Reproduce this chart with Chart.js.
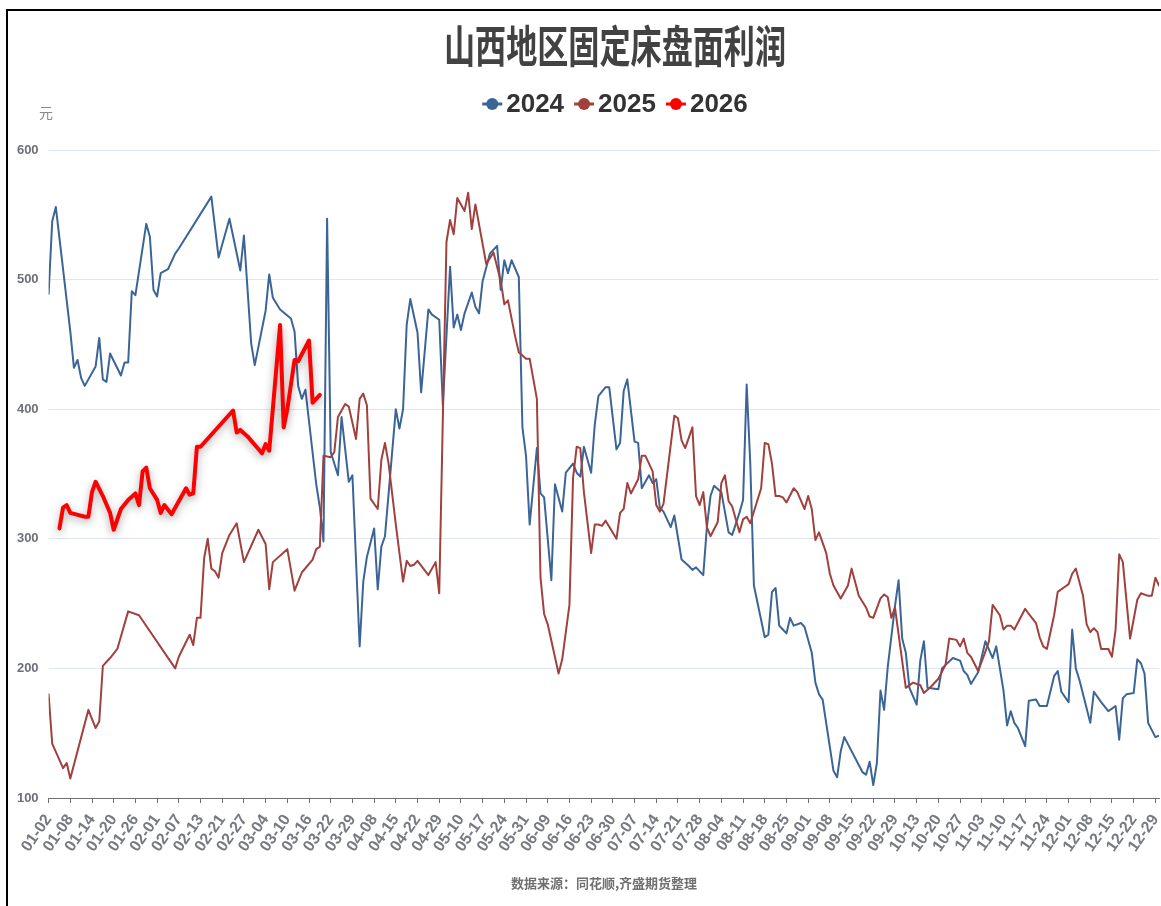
<!DOCTYPE html>
<html>
<head>
<meta charset="utf-8">
<title>山西地区固定床盘面利润</title>
<script src="https://cdn.jsdelivr.net/npm/chart.js@4/dist/chart.umd.min.js"></script>
<style>
  html, body { margin: 0; padding: 0; background: #fff; overflow: hidden; }
  #wrap { position: relative; width: 1161px; height: 906px; }
  #frame { position: absolute; left: 6px; top: 9px; width: 1200px; height: 1000px;
           border-left: 2px solid #000; border-top: 2px solid #000; pointer-events: none; }
  canvas { position: absolute; left: 0; top: 0; }
</style>
</head>
<body>
<div id="wrap">
  <canvas id="profit" width="1161" height="906"></canvas>
  <div id="frame"></div>
</div>
<script>
// labels shown on the x axis, one every 6 trading days
const tickLabels = ['01-02','01-08','01-14','01-20','01-26','02-01','02-07','02-13','02-21','02-27',
  '03-04','03-10','03-16','03-22','03-29','04-08','04-15','04-22','04-29','05-10',
  '05-17','05-24','05-31','06-09','06-16','06-23','06-30','07-07','07-14','07-21',
  '07-28','08-04','08-11','08-18','08-25','09-01','09-08','09-15','09-22','09-29',
  '10-13','10-20','10-27','11-03','11-10','11-17','11-24','12-01','12-08','12-15',
  '12-22','12-29'];
const tickStep = 6;
const lastDay = 307;

const seriesNames = ['2024', '2025', '2026'];

// [trading day index, profit in yuan]
const s2024 = [[0,489],[1,545],[2,556],[6,460],[7,432],[8,438],[9,424],[10,418],[13,433],[14,455],
  [15,423],[16,421],[17,443],[20,426],[21,436],[22,436],[23,491],[24,488],[27,543],[28,533],
  [29,492],[30,487],[31,505],[33,508],[35,520],[36,524],[45,564],[47,517],[50,547],[53,507],
  [54,534],[56,451],[57,434],[60,476],[61,504],[62,486],[64,477],[67,470],[68,460],[69,418],
  [70,408],[71,415],[74,342],[75,324],[76,298],[77,547],[78,367],[80,349],[81,394],[83,344],
  [84,349],[86,217],[87,267],[88,286],[90,308],[91,261],[92,294],[93,302],[96,400],[97,385],
  [98,400],[99,465],[100,485],[102,459],[103,413],[105,477],[106,473],[108,469],[109,403],[111,510],
  [112,463],[113,473],[114,461],[115,474],[117,490],[118,479],[119,474],[120,499],[122,520],[124,526],
  [125,492],[126,515],[127,505],[128,515],[130,502],[131,386],[132,364],[133,311],[135,370],[136,335],
  [137,332],[139,268],[140,342],[142,321],[143,351],[145,358],[146,351],[147,348],[148,371],[150,351],
  [151,388],[152,410],[154,417],[155,417],[157,369],[158,374],[159,414],[160,423],[162,375],[163,374],
  [164,339],[166,349],[167,343],[168,346],[169,324],[170,321],[172,309],[173,318],[175,284],[177,279],
  [178,276],[179,278],[181,272],[182,309],[183,333],[184,341],[186,336],[188,305],[189,303],[191,320],
  [192,330],[193,419],[194,358],[195,264],[198,224],[199,226],[200,259],[201,262],[202,233],[203,230],
  [204,227],[205,239],[206,233],[208,235],[209,232],[211,212],[212,189],[213,180],[214,176],[217,121],
  [218,116],[219,136],[220,147],[225,120],[226,118],[227,128],[228,110],[229,127],[230,183],[231,168],
  [232,201],[234,248],[235,268],[236,223],[237,212],[238,185],[240,172],[241,206],[242,221],[243,185],
  [246,184],[247,200],[250,208],[252,206],[253,198],[254,195],[255,188],[257,197],[259,221],[261,208],
  [262,217],[264,183],[265,156],[266,167],[267,158],[268,154],[270,140],[271,175],[273,176],[274,171],
  [276,171],[278,194],[279,198],[280,182],[282,174],[283,230],[284,200],[285,191],[288,158],[289,182],
  [291,174],[293,167],[295,171],[296,145],[297,177],[298,180],[300,181],[301,207],[302,204],[303,196],
  [304,158],[306,147],[307,148]];

const s2025 = [[0,180],[1,142],[4,123],[5,127],[6,115],[11,168],[13,154],[14,159],[15,202],[17,208],
  [19,215],[22,244],[25,241],[35,200],[36,209],[39,226],[40,218],[41,239],[42,239],[43,285],
  [44,300],[45,277],[46,275],[47,270],[48,289],[50,303],[52,312],[54,282],[58,307],[60,296],
  [61,261],[62,282],[66,292],[68,260],[70,274],[73,284],[74,292],[75,294],[76,364],[78,363],
  [79,367],[80,394],[82,404],[83,402],[85,377],[86,408],[87,412],[88,403],[89,331],[91,323],
  [92,361],[93,374],[94,358],[96,311],[98,267],[99,283],[100,279],[101,280],[102,283],[105,272],
  [107,282],[108,258],[110,529],[111,546],[112,535],[113,563],[115,553],[116,567],[117,539],[118,558],
  [121,512],[123,521],[125,499],[126,481],[127,484],[129,456],[130,444],[132,439],[133,439],[135,408],
  [136,270],[137,242],[138,234],[141,196],[142,207],[144,249],[145,347],[146,371],[147,370],[148,336],
  [150,289],[151,311],[152,311],[153,310],[154,314],[157,300],[158,320],[159,323],[160,343],[161,335],
  [163,346],[164,364],[165,364],[167,352],[168,326],[169,321],[170,327],[173,395],[174,393],[175,376],
  [176,370],[178,386],[179,333],[180,326],[181,336],[182,309],[183,302],[185,313],[186,343],[187,349],
  [188,329],[189,325],[191,305],[192,315],[193,317],[194,312],[197,339],[198,374],[199,373],[200,358],
  [201,333],[202,333],[203,332],[204,328],[206,339],[207,336],[209,323],[210,333],[211,323],[212,299],
  [213,305],[215,289],[216,273],[217,264],[219,254],[221,264],[222,277],[224,256],[226,247],[227,240],
  [228,239],[230,254],[231,257],[232,255],[233,239],[234,247],[237,185],[239,189],[241,187],[242,181],
  [244,186],[246,192],[248,203],[249,223],[251,222],[252,217],[253,223],[254,212],[255,209],[257,198],
  [259,213],[260,221],[261,249],[263,241],[264,230],[265,233],[266,233],[267,230],[270,246],[271,242],
  [273,235],[274,224],[275,217],[276,215],[278,241],[279,259],[281,263],[282,265],[283,273],[284,277],
  [286,256],[287,234],[288,228],[289,231],[290,228],[291,215],[293,215],[294,209],[295,230],[296,288],
  [297,282],[299,223],[301,253],[302,258],[304,256],[305,256],[306,270],[307,264]];

const s2026 = [[3,308],[4,324],[5,326],[6,320],[10,317],[11,317],[12,336],[13,344],[15,333],[17,320],
  [18,307],[20,323],[22,330],[24,335],[25,326],[26,352],[27,355],[28,339],[30,330],[31,320],
  [32,326],[34,319],[38,339],[39,334],[40,335],[41,371],[42,371],[51,399],[52,382],[53,384],
  [55,379],[59,366],[60,373],[61,368],[64,465],[65,386],[66,400],[68,438],[69,437],[72,453],
  [73,405],[75,411]];

const chartTitle = '山西地区固定床盘面利润';
const unitLabel = '元';
const sourceNote = '数据来源：同花顺,齐盛期货整理';

const axisGrey = '#6E7079';
const toPoints = arr => arr.map(([x, y]) => ({ x, y }));

// soft grey shadow under the 2026 line
const glow = {
  id: 'glow',
  beforeDatasetDraw(chart, args) {
    if (args.index !== 2) return;
    const c = chart.ctx;
    c.save();
    c.shadowColor = 'rgba(0,0,0,0.35)';
    c.shadowBlur = 8;
    c.shadowOffsetY = 3;
  },
  afterDatasetDraw(chart, args) {
    if (args.index === 2) chart.ctx.restore();
  }
};

// title, legend, unit and source note
const header = {
  id: 'header',
  afterDraw(chart) {
    const c = chart.ctx;
    const area = chart.chartArea;
    c.save();
    c.textBaseline = 'middle';

    // title is drawn tall and a bit condensed like the original
    c.fillStyle = '#424242';
    c.font = 'bold 44px "Noto Sans CJK SC"';
    c.textAlign = 'center';
    const tw = c.measureText(chartTitle).width;
    c.save();
    c.translate(615, 46);
    c.scale(342 / tw, 1);
    c.fillText(chartTitle, 0, 0);
    c.restore();

    c.font = 'bold 26px "Liberation Sans", Arial';
    const iconW = 20, gapIcon = 4, gapItem = 10;
    const sets = chart.data.datasets;
    const widths = sets.map(d => iconW + gapIcon + c.measureText(d.label).width);
    const total = widths.reduce((a, b) => a + b, 0) + gapItem * (sets.length - 1);
    let x = 615 - total / 2;
    const y = 104;
    sets.forEach((d, i) => {
      c.strokeStyle = d.borderColor;
      c.fillStyle = d.borderColor;
      c.lineWidth = 3;
      c.beginPath();
      c.moveTo(x, y); c.lineTo(x + iconW, y);
      c.stroke();
      c.beginPath();
      c.arc(x + iconW / 2, y, 6, 0, Math.PI * 2);
      c.fill();
      c.fillStyle = '#333';
      c.textAlign = 'left';
      c.fillText(d.label, x + iconW + gapIcon, y + 1);
      x += widths[i] + gapItem;
    });

    c.fillStyle = '#888';
    c.font = '14px "Noto Sans CJK SC"';
    c.textAlign = 'center';
    c.fillText(unitLabel, 46, area.top - 37);

    c.fillStyle = '#707070';
    c.font = 'bold 13px "Noto Sans CJK SC"';
    c.fillText(sourceNote, 604, 883);
    c.restore();
  }
};

new Chart(document.getElementById('profit'), {
  type: 'line',
  data: {
    datasets: [
      { label: seriesNames[0], data: toPoints(s2024), borderColor: '#3B6597', borderWidth: 2, order: 2 },
      { label: seriesNames[1], data: toPoints(s2025), borderColor: '#A0413D', borderWidth: 2, order: 1 },
      { label: seriesNames[2], data: toPoints(s2026), borderColor: '#FF0000', borderWidth: 4, order: 0 }
    ]
  },
  options: {
    responsive: false,
    animation: false,
    elements: { point: { radius: 0 }, line: { tension: 0, borderJoinStyle: 'round', borderCapStyle: 'round' } },
    layout: { padding: { top: 150, right: 2, bottom: 36, left: 0 } },
    plugins: {
      legend: { display: false },
      title: { display: false },
      tooltip: { enabled: false }
    },
    scales: {
      x: {
        type: 'linear',
        min: 0,
        max: lastDay,
        afterBuildTicks: scale => { scale.ticks = tickLabels.map((t, i) => ({ value: i * tickStep })); },
        afterFit: scale => {
          scale.height = 72;
          // rotated labels hang to the left, so no extra side room is needed
          scale.paddingLeft = 0;
          scale.paddingRight = 0;
        },
        ticks: {
          autoSkip: false,
          minRotation: 55,
          maxRotation: 55,
          padding: 8,
          color: '#787a82',
          font: { family: '"Liberation Sans", Arial', size: 16, weight: 'bold' },
          callback: v => tickLabels[Math.round(v / tickStep)]
        },
        grid: { drawOnChartArea: false, drawTicks: true, tickLength: 5, color: axisGrey },
        border: { color: axisGrey, width: 1 }
      },
      y: {
        min: 100,
        max: 600,
        afterFit: scale => { scale.width = 48.6; },
        ticks: {
          stepSize: 100,
          padding: 10,
          color: axisGrey,
          font: { family: '"Liberation Sans", Arial', size: 13, weight: 'bold' }
        },
        grid: { color: '#E0E6F1', drawTicks: false },
        border: { display: false }
      }
    }
  },
  plugins: [glow, header]
});
</script>
</body>
</html>
